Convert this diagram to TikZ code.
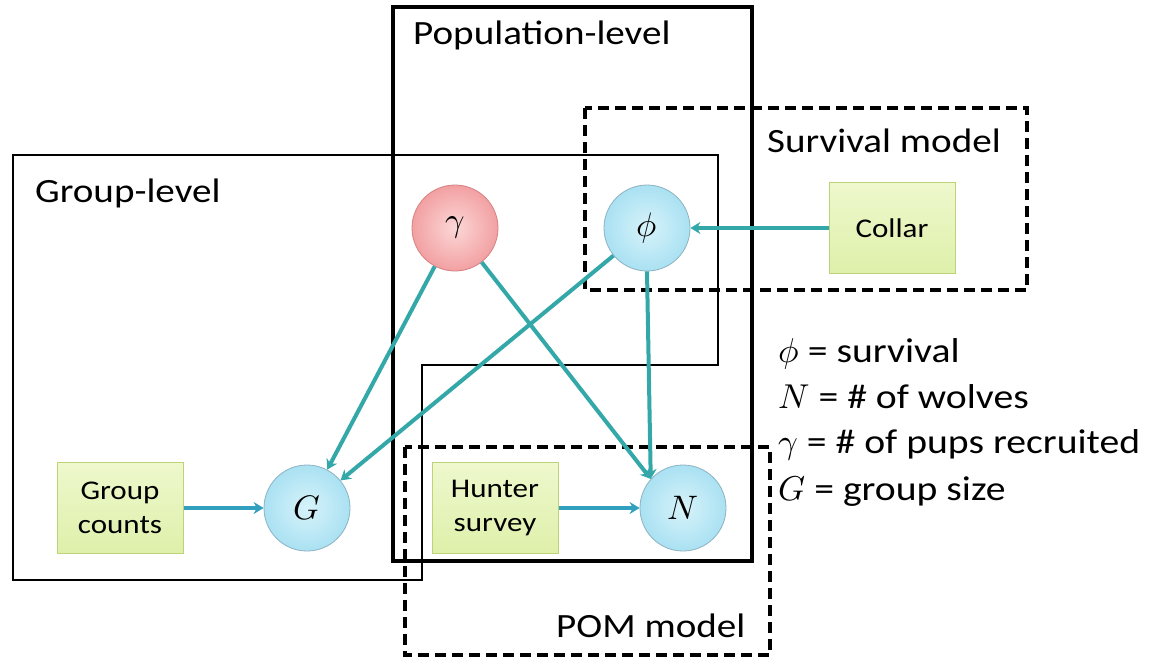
\documentclass[tikz,border=0pt]{standalone}
\usepackage{fontspec}
\usepackage{unicode-math}
\setmainfont{Carlito}[FakeStretch=1.15]
\setmathfont{Latin Modern Math}
\usetikzlibrary{arrows.meta}
\definecolor{tealc}{RGB}{52,168,168}
\definecolor{blueh}{RGB}{48,160,190}
\definecolor{boxfill}{RGB}{222,240,170}
\definecolor{boxfilllight}{RGB}{238,248,205}
\definecolor{boxline}{RGB}{190,210,120}
\definecolor{bluein}{RGB}{215,243,250}
\definecolor{blueout}{RGB}{170,225,242}
\definecolor{blueline}{RGB}{140,180,195}
\definecolor{pinkin}{RGB}{252,215,215}
\definecolor{pinkout}{RGB}{242,160,162}
\definecolor{pinkline}{RGB}{215,130,130}
\tikzset{
  frame/.style={draw=black, line width=2pt},
  thickframe/.style={draw=black, line width=3.5pt},
  dashframe/.style={draw=black, line width=3.5pt, dash pattern=on 11pt off 6pt},
  lbl/.style={font=\fontsize{34}{36}\selectfont, anchor=base west, inner sep=0pt},
  leg/.style={font=\fontsize{34.5}{36}\selectfont, anchor=base west, inner sep=0pt},
  varblue/.style={circle, minimum size=86pt, inner sep=0pt, draw=blueline, line width=0.8pt,
     inner color=bluein, outer color=blueout, font=\fontsize{34}{34}\selectfont},
  varpink/.style={circle, minimum size=86pt, inner sep=0pt, draw=pinkline, line width=0.8pt,
     inner color=pinkin, outer color=pinkout, font=\fontsize{34}{34}\selectfont},
  databox/.style={rectangle, minimum width=126pt, minimum height=91pt, inner sep=0pt, align=center,
     draw=boxline, line width=1pt, top color=boxfilllight, bottom color=boxfill,
     font=\fontsize{27}{34}\selectfont},
  arr/.style={draw=tealc, line width=4pt, -{Stealth[length=10pt,width=12pt]}},
  harr/.style={draw=blueh, line width=4.5pt, -{Stealth[length=10pt,width=12pt]}},
}
\begin{document}
\begin{tikzpicture}[x=1pt,y=-1pt]
\useasboundingbox (0,0) rectangle (1161,661);
\fill[white] (0,0) rectangle (1161,661);

% frames
\draw[frame] (13,155) -- (718,155) -- (718,365) -- (422,365) -- (422,580) -- (13,580) -- cycle;
\draw[thickframe] (393,7) rectangle (752,561);
\draw[dashframe] (585,108) rectangle (1027,290);
\draw[dashframe] (405,447) rectangle (770,655);

% frame labels
\node[lbl] (lpop) at (413,45) {Population-level};
\node[lbl] (lgrp) at (35,202) {Group-level};
\node[lbl] (lsurv) at (767,152) {Survival model};
\node[lbl] (lpom) at (556,637) {POM model};

% nodes
\node[varpink] (gamma) at (455,228) {$\gamma$};
\node[varblue] (phi) at (647,228) {$\phi$};
\node[varblue] (G) at (307,508) {$G$};
\node[varblue] (N) at (683,508) {$N$};
\node[databox] (collar) at (892,228) {Collar};
\node[databox] (gc) at (120,508) {Group\\counts};
\node[databox] (hs) at (495,508) {Hunter\\survey};

% connectors
\draw[arr] (gamma) -- (G);
\draw[arr] (phi) -- (G);
\draw[arr] (gamma) -- (N.138);
\draw[arr] (phi.south) -- (N.138);
\draw[arr] (collar) -- (phi);
\draw[harr] (gc) -- (G);
\draw[harr] (hs) -- (N);

% legend
\node[leg] (l1) at (778,362) {$\phi$ = survival};
\node[leg] (l2) at (778,408) {$N$ = \# of wolves};
\node[leg] (l3) at (778,453) {$\gamma$ = \# of pups recruited};
\node[leg] (l4) at (778,500) {$G$ = group size};
\end{tikzpicture}
\end{document}
